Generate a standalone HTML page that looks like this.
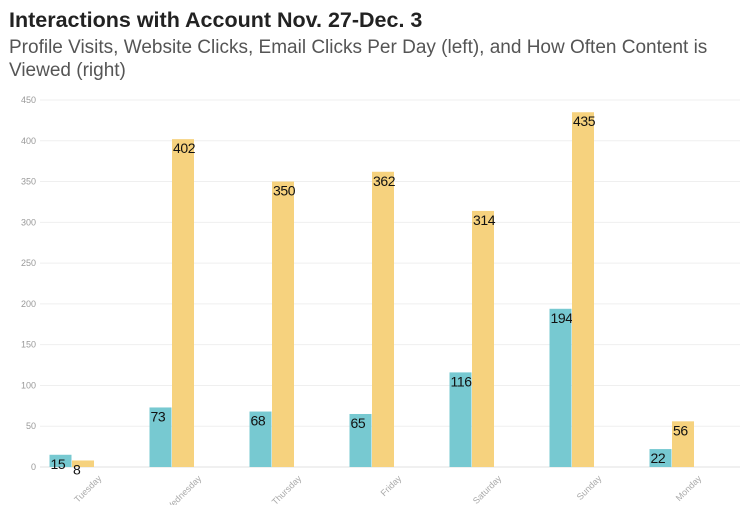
<!DOCTYPE html>
<html><head><meta charset="utf-8"><style>
body{margin:0;background:#fff;font-family:"Liberation Sans",Arial,sans-serif;width:755px;height:505px;overflow:hidden}
#title{position:absolute;left:9px;top:8px;font-size:21.5px;font-weight:bold;color:#222}
#sub{position:absolute;left:9px;top:36px;font-size:19px;color:#555;line-height:23px;width:740px}
svg{position:absolute;left:0;top:0}
</style></head><body>
<div id="title">Interactions with Account Nov. 27-Dec. 3</div>
<div id="sub">Profile Visits, Website Clicks, Email Clicks Per Day (left), and How Often Content is Viewed (right)</div>
<svg id="c" width="755" height="505"></svg>
<script>
const categories=["Tuesday","Wednesday","Thursday","Friday","Saturday","Sunday","Monday"];
const leftValues=[15,73,68,65,116,194,22];
const rightValues=[8,402,350,362,314,435,56];
const yTicks=[0,50,100,150,200,250,300,350,400,450];
const NS="http://www.w3.org/2000/svg";
const svg=document.getElementById('c');
const x0=40,x1=740,y0=467,y1=100,yMax=450;
const band=(x1-x0)/categories.length;
const y=v=>y0-(v/yMax)*(y0-y1);
const xb=i=>x0+i*band;
function mk(t,a){const e=document.createElementNS(NS,t);for(const k in a)e.setAttribute(k,a[k]);svg.appendChild(e);return e;}
yTicks.forEach(t=>{
  const l=mk('line',{x1:x0,x2:x1,y1:y(t),y2:y(t),stroke:t===0?'#e2e2e2':'#efefef','stroke-width':1});
  
  
  const tx=mk('text',{x:36,y:y(t)+3,'text-anchor':'end','font-size':9,fill:'#999'});
  tx.textContent=t;
  
  
});
const bw=22.5;
categories.forEach((c,i)=>{
  const bx=xb(i)+9.5;
  [[leftValues[i],'#77c9d1',bx,'left'],[rightValues[i],'#f6d27e',bx+bw,'right']].forEach(([v,col,xx,s])=>{
    const r=mk('rect',{x:xx,y:y(v),width:bw-0.5,height:y0-y(v),fill:col});
    
    
    const t=mk('text',{x:xx+1,y:y(v)+14,'font-size':14,'letter-spacing':'-0.4',fill:'#111'});
    t.textContent=v;
    
    
  });
  const cx=xb(i)+band/2+12;
  const t=mk('text',{x:cx,y:479,'text-anchor':'end','font-size':9,fill:'#aaa',transform:`rotate(-45 ${cx} 479)`});
  t.textContent=c;
  
  
});
</script>
</body></html>
